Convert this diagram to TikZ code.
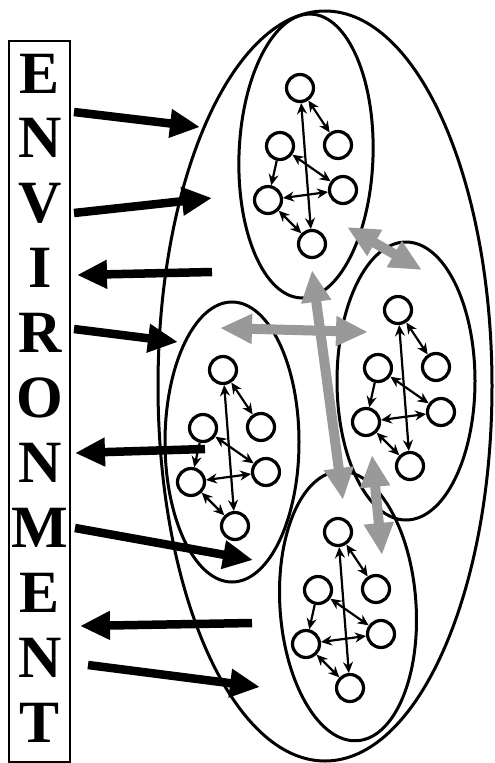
\documentclass[tikz,border=0pt]{standalone}
\usepackage{fontspec}
\setmainfont{Liberation Serif}
\usetikzlibrary{arrows.meta,shapes.geometric}

\begin{document}
\begin{tikzpicture}[x=1pt,y=-1pt,
    cell/.style={draw,circle,line width=3.2pt,minimum size=27pt,inner sep=0pt},
    link/.style={line width=2.2pt,{Stealth[length=11pt,width=10pt]}-{Stealth[length=11pt,width=10pt]}},
    onelink/.style={line width=2.2pt,-{Stealth[length=11pt,width=10pt]}},
    group/.style={draw,ellipse,line width=3pt,inner sep=0pt},
    envarrow/.style={line width=8.5pt,-{Triangle[length=30pt,width=27pt]}},
    swaparrow/.style={line width=10pt,black!40,{Triangle[length=32pt,width=28pt]}-{Triangle[length=32pt,width=28pt]}},
    letter/.style={font=\fontsize{60}{60}\selectfont\bfseries,anchor=base,inner sep=0pt}]
  \useasboundingbox (0,0) rectangle (495,763);
  % environment box
  \node[draw,line width=2.4pt,minimum width=61pt,minimum height=721pt,inner sep=0pt] (env) at (39.5,401.5) {};
  \foreach \l [count=\i] in {E,N,V,I,R,O,N,M,E,N,T}
    \node[letter] (l\i) at (40,{93+64.9*(\i-1)}) {\l};
  % system and its groups
  \node[group,minimum width=334pt,minimum height=750pt] (sys) at (325,386) {};
  \node[group,minimum width=134pt,minimum height=284pt,rotate=-2] (gt) at (306,156) {};
  \node[group,minimum width=134pt,minimum height=280pt] (gl) at (232,442) {};
  \node[group,minimum width=138pt,minimum height=278pt] (gr) at (406,381) {};
  \node[group,minimum width=136pt,minimum height=270pt,rotate=4] (gb) at (348,606) {};
  % agents inside each group
  \foreach \g/\x/\y in {t/300/88, r/398/310, l/223/370, b/338/532} {
    \node[cell] (\g1) at (\x,\y) {};
    \node[cell] (\g2) at (\x+38,\y+57) {};
    \node[cell] (\g3) at (\x-20,\y+58) {};
    \node[cell] (\g4) at (\x-32,\y+112) {};
    \node[cell] (\g5) at (\x+43,\y+102) {};
    \node[cell] (\g6) at (\x+12,\y+156) {};
    \draw[link] (\g1) -- (\g6);
    \draw[link] (\g1) -- (\g2);
    \draw[onelink] (\g3) -- (\g4);
    \draw[link] (\g3) -- (\g5);
    \draw[link] (\g4) -- (\g5);
    \draw[link] (\g4) -- (\g6);
  }
  % exchanges between groups
  \foreach \i/\ax/\ay/\bx/\by in {1/347/227/422/270, 2/220/328/368/332, 3/312/270/343/500, 4/372/455/382/555} {
    \coordinate (s\i-a) at (\ax,\ay);
    \coordinate (s\i-b) at (\bx,\by);
    \draw[swaparrow] (s\i-a) -- (s\i-b);
  }
  % exchanges with the environment
  \foreach \i/\ax/\ay/\bx/\by in {1/74/112/200/127, 2/74/213/212/198, 3/212/272/77/275, 4/74/329/178/342,
                                  5/205/449/75/453, 6/75/528/253/560, 7/252/623/80/626, 8/88/665/260/687} {
    \coordinate (e\i-a) at (\ax,\ay);
    \coordinate (e\i-b) at (\bx,\by);
    \draw[envarrow] (e\i-a) -- (e\i-b);
  }
\end{tikzpicture}
\end{document}
